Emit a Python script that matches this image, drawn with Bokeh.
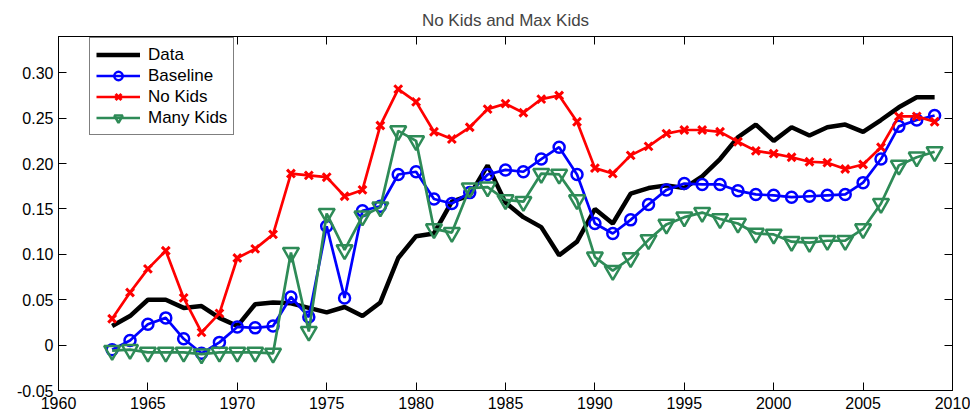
from bokeh.plotting import figure
from bokeh.models import (FixedTicker, LinearAxis, Legend, LegendItem, ColumnDataSource)
from bokeh.embed import file_html
from bokeh.resources import INLINE

years = list(range(1963, 2010))

data_series = [0.021, 0.032, 0.050, 0.050, 0.041, 0.043, 0.030, 0.021, 0.045, 0.047,
               0.046, 0.041, 0.036, 0.042, 0.032, 0.047, 0.096, 0.120, 0.123, 0.158,
               0.165, 0.198, 0.157, 0.141, 0.130, 0.099, 0.114, 0.150, 0.134, 0.167,
               0.173, 0.176, 0.173, 0.186, 0.205, 0.229, 0.243, 0.225, 0.240, 0.231,
               0.240, 0.243, 0.235, 0.248, 0.262, 0.273, 0.273]

baseline = [-0.005, 0.005, 0.023, 0.030, 0.007, -0.009, 0.003, 0.020, 0.019, 0.021,
            0.053, 0.031, 0.131, 0.052, 0.148, 0.153, 0.188, 0.191, 0.161, 0.156,
            0.168, 0.188, 0.193, 0.191, 0.205, 0.218, 0.188, 0.134, 0.123, 0.138,
            0.155, 0.171, 0.178, 0.177, 0.177, 0.170, 0.166, 0.165, 0.163, 0.164,
            0.165, 0.166, 0.179, 0.205, 0.241, 0.248, 0.253]

no_kids = [0.029, 0.058, 0.084, 0.104, 0.052, 0.014, 0.035, 0.096, 0.106, 0.122,
           0.189, 0.187, 0.185, 0.164, 0.171, 0.242, 0.282, 0.268, 0.235, 0.227,
           0.240, 0.260, 0.266, 0.256, 0.271, 0.275, 0.246, 0.195, 0.189, 0.209,
           0.219, 0.233, 0.237, 0.237, 0.235, 0.224, 0.214, 0.211, 0.207, 0.202,
           0.201, 0.194, 0.199, 0.218, 0.252, 0.252, 0.246]

many_kids = [-0.006, -0.005, -0.008, -0.008, -0.008, -0.010, -0.008, -0.008, -0.008, -0.009,
             0.102, 0.015, 0.145, 0.105, 0.142, 0.152, 0.236, 0.225, 0.128, 0.124,
             0.173, 0.174, 0.160, 0.158, 0.189, 0.188, 0.160, 0.097, 0.082, 0.096,
             0.116, 0.133, 0.141, 0.146, 0.139, 0.134, 0.123, 0.122, 0.114, 0.113,
             0.115, 0.115, 0.128, 0.156, 0.198, 0.207, 0.213]

x_ticks = [1960, 1965, 1970, 1975, 1980, 1985, 1990, 1995, 2000, 2005, 2010]
y_ticks = [-0.05, 0, 0.05, 0.10, 0.15, 0.20, 0.25, 0.30]
y_tick_labels = ["-0.05", "0", "0.05", "0.10", "0.15", "0.20", "0.25", "0.30"]

FONT = "Liberation Sans"

p = figure(width=970, height=414, x_range=(1960, 2010), y_range=(-0.05, 0.34),
           output_backend="svg", toolbar_location=None,
           min_border_left=58, min_border_right=18, min_border_top=36, min_border_bottom=24,
           title="No Kids and Max Kids")
p.title.align = "center"
p.title.text_font = FONT
p.title.text_font_size = "17px"
p.title.text_font_style = "normal"
p.title.standoff = 13
p.xgrid.visible = False
p.ygrid.visible = False
p.outline_line_color = "black"
p.outline_line_width = 1
p.background_fill_color = "white"
p.border_fill_color = "white"

def style_axis(ax, show_labels=True):
    ax.major_tick_in = 8
    ax.major_tick_out = 0
    ax.minor_tick_in = 0
    ax.minor_tick_out = 0
    ax.major_tick_line_color = "black"
    ax.axis_line_color = "black"
    ax.major_label_text_font = FONT
    if show_labels:
        ax.major_label_text_font_size = "16px"
        ax.major_label_text_color = "black"
    else:
        ax.major_label_text_font_size = "1px"
        ax.major_label_text_color = None
        ax.major_label_standoff = 0

p.xaxis.ticker = FixedTicker(ticks=x_ticks)
p.yaxis.ticker = FixedTicker(ticks=y_ticks)
p.yaxis.major_label_overrides = {t: l for t, l in zip(y_ticks, y_tick_labels)}
style_axis(p.xaxis[0])
style_axis(p.yaxis[0])
p.xaxis.major_label_standoff = 6
p.yaxis.major_label_standoff = 5

top_ax = LinearAxis(ticker=FixedTicker(ticks=x_ticks))
style_axis(top_ax, show_labels=False)
p.add_layout(top_ax, "above")
right_ax = LinearAxis(ticker=FixedTicker(ticks=y_ticks))
style_axis(right_ax, show_labels=False)
p.add_layout(right_ax, "right")

src = ColumnDataSource(dict(year=years, data=data_series, base=baseline,
                            nokids=no_kids, many=many_kids))

r_data = p.line("year", "data", source=src, line_color="black", line_width=4.5)

r_base_l = p.line("year", "base", source=src, line_color="#0000FF", line_width=2.7)
r_base_m = p.scatter("year", "base", source=src, marker="circle", size=11,
                     line_color="#0000FF", line_width=2.5, fill_color=None)

r_nk_l = p.line("year", "nokids", source=src, line_color="#FF0000", line_width=2.7)
r_nk_m = p.scatter("year", "nokids", source=src, marker="x", size=11,
                   line_color="#FF0000", line_width=3)

green = "#2E8B57"
r_mk_l = p.line("year", "many", source=src, line_color=green, line_width=2.7)
r_mk_m = p.scatter("year", "many", source=src, marker="inverted_triangle", size=16,
                   line_color=green, line_width=2.5, fill_color=None)

legend = Legend(items=[
    LegendItem(label="Data", renderers=[r_data]),
    LegendItem(label="Baseline", renderers=[r_base_l, r_base_m]),
    LegendItem(label="No Kids", renderers=[r_nk_l, r_nk_m]),
    LegendItem(label="Many Kids", renderers=[r_mk_l, r_mk_m]),
], location=(31, 255))
legend.label_text_font = FONT
legend.label_text_font_size = "17px"
legend.label_text_color = "black"
legend.glyph_width = 44
legend.glyph_height = 21
legend.label_height = 21
legend.spacing = 0
legend.padding = 6
legend.label_standoff = 8
legend.border_line_color = "black"
legend.border_line_width = 1
legend.background_fill_alpha = 1
legend.margin = 0
p.add_layout(legend, "center")

open("out.html", "w").write(file_html(p, INLINE))
